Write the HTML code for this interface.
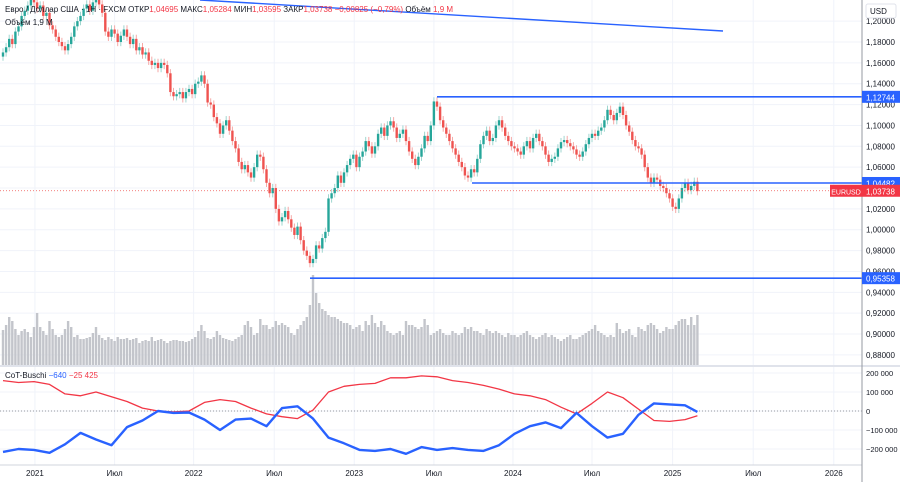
<!DOCTYPE html>
<html><head><meta charset="utf-8"><style>
body{margin:0;background:#fff;font-family:"Liberation Sans","Noto Sans CJK SC",sans-serif}
svg{display:block}
</style></head><body>
<svg id="c" width="900" height="482" viewBox="0 0 900 482" font-family="Liberation Sans, sans-serif"></svg>
<script>
const closes=[1.170,1.175,1.183,1.178,1.190,1.195,1.205,1.210,1.215,1.222,
1.218,1.212,1.215,1.205,1.208,1.196,1.192,1.185,1.180,1.176,
1.172,1.178,1.185,1.195,1.200,1.205,1.212,1.216,1.210,1.218,
1.222,1.216,1.208,1.190,1.185,1.192,1.188,1.180,1.186,1.192,
1.185,1.178,1.183,1.172,1.175,1.168,1.170,1.162,1.158,1.160,
1.155,1.160,1.158,1.150,1.132,1.128,1.130,1.132,1.126,1.132,
1.135,1.130,1.140,1.142,1.148,1.140,1.122,1.120,1.108,1.102,
1.092,1.100,1.105,1.095,1.085,1.078,1.065,1.058,1.062,1.055,
1.050,1.060,1.072,1.070,1.058,1.045,1.035,1.040,1.020,1.008,
1.012,1.018,1.010,1.002,0.995,1.003,0.990,0.980,0.975,0.968,
0.972,0.985,0.982,0.992,0.998,1.030,1.035,1.040,1.052,1.045,
1.055,1.062,1.068,1.072,1.060,1.070,1.075,1.085,1.080,1.073,
1.080,1.092,1.098,1.090,1.100,1.104,1.098,1.088,1.092,1.096,
1.085,1.075,1.068,1.062,1.070,1.078,1.090,1.085,1.100,1.123,
1.118,1.105,1.098,1.092,1.085,1.078,1.072,1.065,1.060,1.052,
1.050,1.058,1.055,1.068,1.082,1.090,1.095,1.085,1.088,1.100,
1.105,1.098,1.090,1.085,1.080,1.078,1.075,1.072,1.080,1.085,
1.078,1.088,1.092,1.085,1.080,1.072,1.065,1.068,1.070,1.078,
1.084,1.086,1.083,1.080,1.077,1.072,1.070,1.075,1.082,1.088,
1.092,1.090,1.095,1.098,1.105,1.115,1.110,1.105,1.112,1.118,
1.110,1.100,1.094,1.086,1.080,1.078,1.072,1.060,1.050,1.045,
1.050,1.048,1.042,1.040,1.035,1.030,1.022,1.020,1.030,1.040,
1.045,1.038,1.042,1.046,1.037];
const volumes=[35,40,48,44,36,30,34,36,33,28,38,52,38,34,30,44,36,30,28,30,
36,44,38,28,30,26,26,27,28,32,38,30,27,25,28,26,24,28,26,26,
27,25,26,27,22,24,25,24,28,24,25,26,24,22,24,25,25,24,24,23,
24,26,28,34,40,34,27,26,28,34,30,27,26,25,24,26,28,30,40,44,
38,30,32,46,40,40,36,38,44,40,42,40,38,32,30,36,40,44,48,60,
90,72,62,56,54,50,48,48,46,44,42,42,40,36,38,40,34,44,40,50,
42,38,44,40,34,32,30,32,34,30,44,40,40,38,36,38,46,40,30,32,
34,36,32,30,30,34,32,30,32,38,36,38,34,34,32,30,36,34,32,34,
32,30,28,32,30,30,28,30,32,34,30,28,26,28,30,32,28,30,28,26,
24,26,28,30,26,26,28,30,32,34,36,40,34,32,30,28,30,28,42,36,
32,34,36,30,28,38,36,34,40,42,40,36,32,34,38,36,36,40,44,46,
46,40,48,40,50];
const cotIdx=[0,5,10,15,20,25,30,35,40,45,50,55,60,65,70,75,80,85,90,95,100,105,110,115,120,125,130,135,140,145,150,155,160,165,170,175,180,185,190,195,200,205,210,215,220,224];
const cotBlue=[-215,-200,-205,-220,-175,-115,-150,-180,-85,-50,0,-10,-8,-45,-100,-45,-40,-80,15,25,-40,-140,-170,-205,-210,-200,-225,-190,-205,-195,-205,-210,-180,-120,-80,-60,-90,-10,-80,-140,-120,-20,40,35,30,-5];
const cotRed=[160,150,155,140,90,80,100,75,50,15,0,-5,0,45,60,50,15,-15,-30,-40,5,100,130,140,145,175,175,185,180,160,150,135,115,90,80,60,20,-15,40,100,70,10,-50,-55,-45,-25];
const priceTicks=[1.20,1.18,1.16,1.14,1.12,1.10,1.08,1.06,1.04,1.02,1.00,0.98,0.96,0.94,0.92,0.90,0.88];
const cotTicks=[200000,100000,0,-100000,-200000];
const timeLabels=["2021","Июл","2022","Июл","2023","Июл","2024","Июл","2025","Июл","2026"];
const timeIdx=[10.3,36,61.5,87.5,113.3,139,164.5,190,216,242,268];

const S=document.getElementById('c'),NS='http://www.w3.org/2000/svg';
const AX=862;
const xOf=i=>3+i*3.1;
const yP=p=>42+(1.18-p)*1043;
const yV=v=>365-v;
const yC=k=>411-k*0.19;
function el(t,a,p){const e=document.createElementNS(NS,t);for(const k in a)e.setAttribute(k,a[k]);(p||S).appendChild(e);return e;}
function tx(x,y,s,fill,size,anchor,name){const e=el('text',{x:x,y:y,fill:fill,'font-size':size,'text-anchor':anchor||'start'});e.textContent=s;

return e;}
priceTicks.forEach(p=>{const l=el('line',{x1:0,x2:AX,y1:yP(p),y2:yP(p),stroke:'#f0f3fa'});

});
cotTicks.forEach(v=>{const l=el('line',{x1:0,x2:AX,y1:yC(v/1000),y2:yC(v/1000),stroke:'#f0f3fa'});

});
timeIdx.forEach(i=>{const l=el('line',{x1:xOf(i),x2:xOf(i),y1:0,y2:465,stroke:'#f0f3fa'});

});
const vg=el('g',{});
volumes.forEach((v,i)=>{const r=el('rect',{x:xOf(i)-1.2,y:yV(v),width:2.4,height:v,fill:'#c3c5cb'},vg);

});
const cg=el('g',{});
closes.forEach((c,i)=>{const o=i?closes[i-1]:c-0.004;const up=c>=o;const col=up?'#26a69a':'#ef5350';
const hi=Math.max(o,c)+0.004,lo=Math.min(o,c)-0.004;
const w=el('line',{x1:xOf(i),x2:xOf(i),y1:yP(hi),y2:yP(lo),stroke:up?'#9fd6cf':'#f5a9a7','stroke-width':1},cg);


const b=el('rect',{x:xOf(i)-1.2,y:yP(Math.max(o,c)),width:2.4,height:Math.max(1,Math.abs(o-c)*1043),fill:col},cg);

});
function hl(p,x1,name){const l=el('line',{x1:x1,x2:AX,y1:yP(p),y2:yP(p),stroke:'#2962ff','stroke-width':1.6});

}
hl(1.12744,437,'resistance-line');hl(1.04482,472,'support-line');hl(0.95358,310,'low-line');
const tl=el('line',{x1:200,y1:0,x2:723,y2:31,stroke:'#2962ff','stroke-width':1.4});


const pl=el('line',{x1:0,x2:AX,y1:yP(1.03738),y2:yP(1.03738),stroke:'#ef5350','stroke-dasharray':'1 2','stroke-width':0.8});


const zl=el('line',{x1:0,x2:AX,y1:yC(0),y2:yC(0),stroke:'#9598a1','stroke-dasharray':'1 2'});


function series(arr,col,w,name){const d=arr.map((v,k)=>(k?'L':'M')+xOf(cotIdx[k]).toFixed(1)+' '+yC(v).toFixed(1)).join(' ');
const p=el('path',{d:d,fill:'none',stroke:col,'stroke-width':w,'stroke-linejoin':'round'});

}
series(cotRed,'#f23645',1.3,'cot-red-line');series(cotBlue,'#2962ff',2.4,'cot-blue-line');
const s1=el('line',{x1:0,x2:900,y1:366,y2:366,stroke:'#e0e3eb','stroke-width':2});
const s2=el('line',{x1:0,x2:AX,y1:465,y2:465,stroke:'#d1d4dc'});
const s3=el('line',{x1:AX,x2:AX,y1:0,y2:482,stroke:'#9598a1'});
priceTicks.forEach(p=>tx(866,yP(p)+3,p.toFixed(5).replace('.',','),'#131722',8,'start','price-tick-label'));
cotTicks.forEach(v=>{const a=Math.abs(v/1000);const s=v===0?'0':(v<0?'−':'')+a+' 000';
tx(866,yC(v/1000)+3,s,'#131722',7.5,'start','cot-tick-label');});
timeLabels.forEach((s,k)=>tx(xOf(timeIdx[k]),476,s,'#131722',8,'middle','time-tick-label'));
const ub=el('rect',{x:866,y:4,width:30,height:14,fill:'#fff',stroke:'#e0e3eb',rx:2});
tx(870,14,'USD','#131722',8,'start','currency-label');
function tag(p,text,col,name){const y=yP(p);const r=el('rect',{x:AX,y:y-6,width:38,height:12,fill:col});


tx(866,y+3.5,text,'#fff',8,'start',name+'-text');}
tag(1.12744,'1,12744','#2962ff','resistance-label');tag(1.04482,'1,04482','#2962ff','support-label');tag(0.95358,'0,95358','#2962ff','low-label');tag(1.03738,'1,03738','#f23645','last-price-label');
const er=el('rect',{x:830,y:yP(1.03738)-6,width:32,height:12,fill:'#f23645'});
tx(846,yP(1.03738)+3.5,'EURUSD','#fff',7,'middle','symbol-tag-text');
const h=el('text',{x:5,y:12,'font-size':8,fill:'#131722'});
h.innerHTML='Евро / Доллар США · 1Н · FXCM  ОТКР<tspan fill="#f23645">1,04695</tspan>  МАКС<tspan fill="#f23645">1,05284</tspan>  МИН<tspan fill="#f23645">1,03595</tspan>  ЗАКР<tspan fill="#f23645">1,03738</tspan>  <tspan fill="#f23645">−0,00825 (−0,79%)</tspan>  Объём <tspan fill="#f23645">1,9 M</tspan>';
tx(5,25,'Объём  1,9 M','#131722',8,'start','volume-legend');
const c=el('text',{x:5,y:378,'font-size':8,fill:'#131722'});
c.innerHTML='CoT-Buschi  <tspan fill="#2962ff">−640</tspan>  <tspan fill="#f23645">−25 425</tspan>';
</script>
</body></html>
